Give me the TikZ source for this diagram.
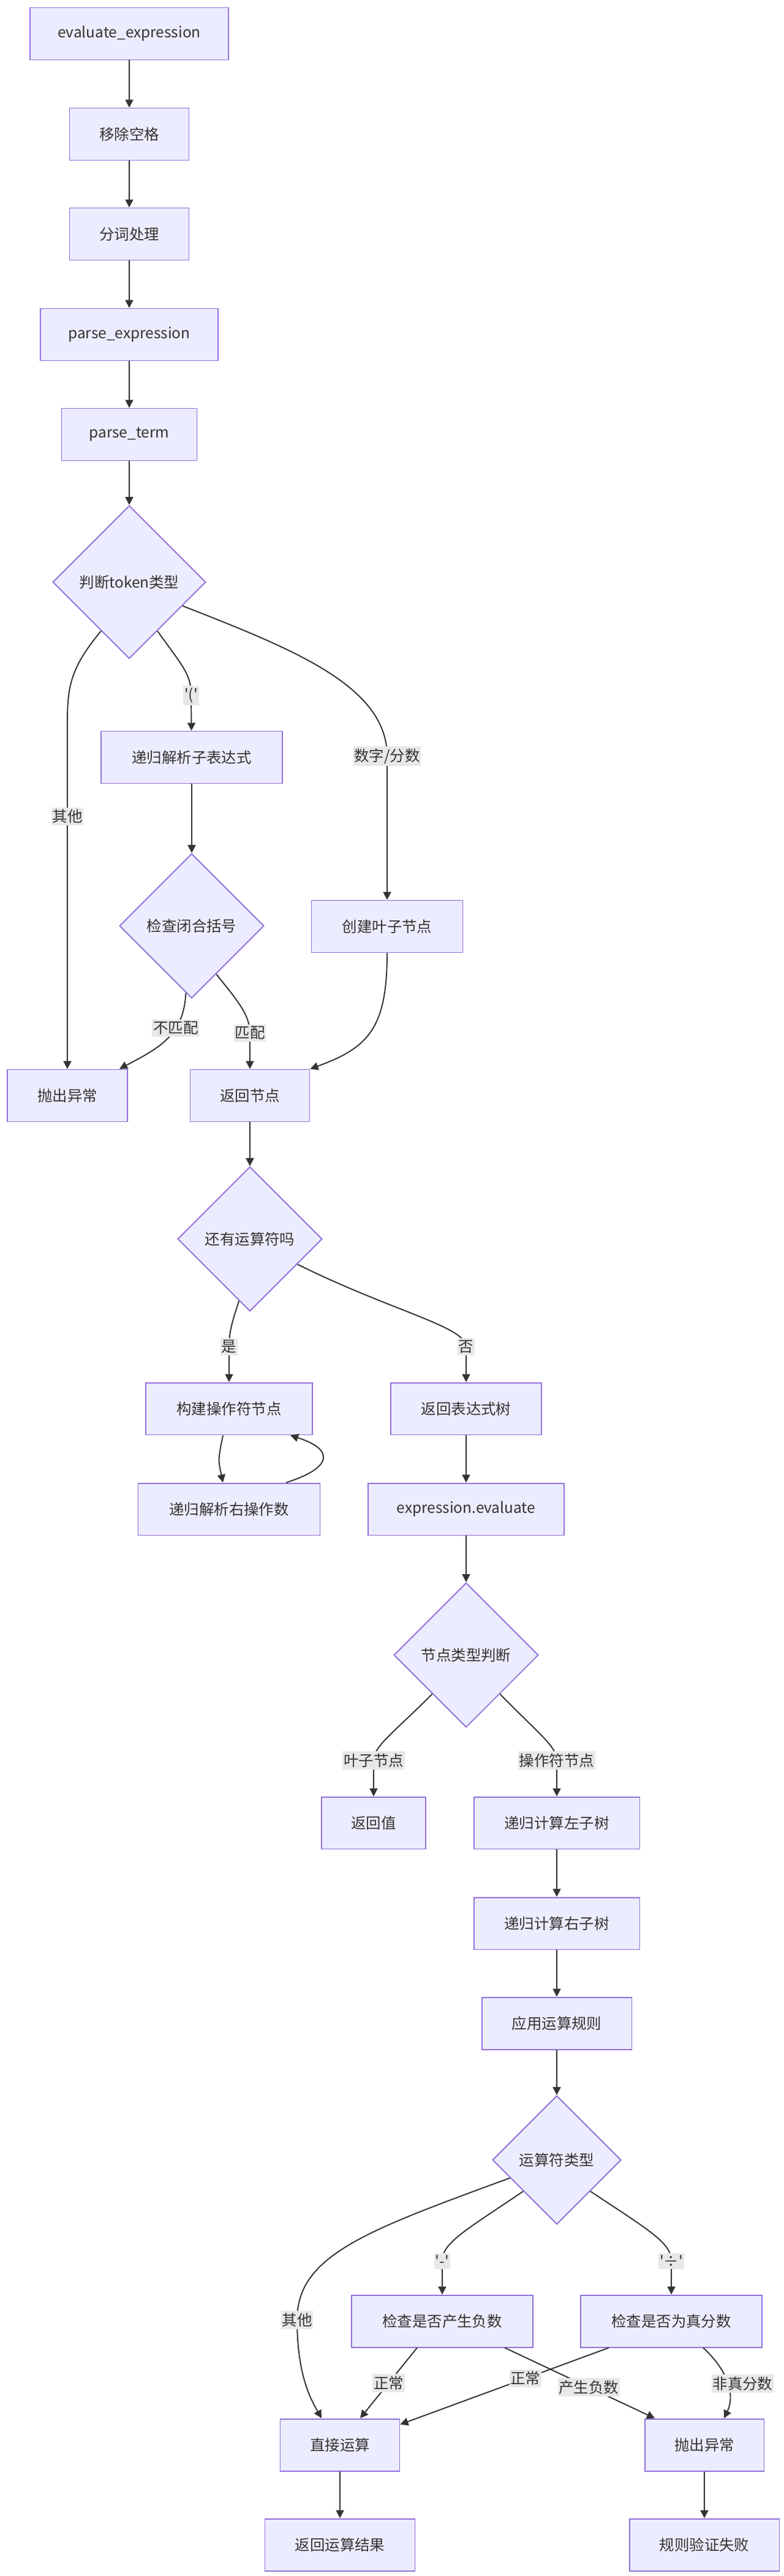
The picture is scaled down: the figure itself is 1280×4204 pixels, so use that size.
\documentclass[tikz,border=0pt]{standalone}
\usepackage{fontspec}
\newfontfamily\cjk{Noto Sans CJK SC}
\usetikzlibrary{arrows.meta,shapes.geometric}
\definecolor{nodefill}{HTML}{ECECFF}
\definecolor{nodeline}{HTML}{9370DB}
\definecolor{edgeline}{HTML}{333333}
\definecolor{lblfill}{HTML}{E8E8E8}
\def\chartfont{\cjk\fontsize{13.9}{16}\selectfont}
\tikzset{
	box/.style={draw=nodeline, fill=nodefill, line width=1.1pt, minimum height=1.7cm, inner sep=0pt, text=edgeline, font=\chartfont},
	dia/.style={box, diamond, aspect=1},
	flow/.style={draw=edgeline, line width=1.1pt, -{Triangle[length=0.26cm, width=0.26cm]}},
	lbl/.style={fill=lblfill, inner xsep=1pt, inner ysep=2pt, text=edgeline, font=\chartfont}
}

\begin{document}
\begin{tikzpicture}[x=0.02cm, y=-0.02cm]
			%%%%% START %%%%%
			\useasboundingbox (0, 0) rectangle (1280, 4204);
			
			\node[box, minimum width=6.48cm] (eval) at (211, 55) {evaluate\_expression};
			\node[box, minimum width=3.9cm] (rmsp) at (211, 219) {移除空格};
			\node[box, minimum width=3.9cm] (tokz) at (211, 382) {分词处理};
			\node[box, minimum width=5.8cm] (pexp) at (211, 546) {parse\_expression};
			\node[box, minimum width=4.42cm] (pterm) at (211, 709) {parse\_term};
			\node[dia, minimum size=5cm] (judge) at (211, 950) {判断token类型};
			
			\node[box, minimum width=5.92cm] (sub) at (313, 1236) {递归解析子表达式};
			\node[dia, minimum size=4.72cm] (close) at (313, 1511) {检查闭合括号};
			\node[box, minimum width=4.94cm] (leaf) at (632, 1512) {创建叶子节点};
			\node[box, minimum width=3.92cm] (throw1) at (110, 1788) {抛出异常};
			\node[box, minimum width=3.9cm] (ret) at (408, 1788) {返回节点};
			
			\node[dia, minimum size=4.72cm] (more) at (408, 2022) {还有运算符吗};
			\node[box, minimum width=5.44cm] (build) at (374, 2299) {构建操作符节点};
			\node[box, minimum width=4.92cm] (rtree) at (761, 2299) {返回表达式树};
			\node[box, minimum width=5.94cm] (rop) at (374, 2463) {递归解析右操作数};
			\node[box, minimum width=6.4cm] (eeval) at (761, 2463) {expression.evaluate};
			
			\node[dia, minimum size=4.72cm] (kind) at (761, 2701) {节点类型判断};
			\node[box, minimum width=3.4cm] (rval) at (610, 2975) {返回值};
			\node[box, minimum width=5.42cm] (lsub) at (909, 2975) {递归计算左子树};
			\node[box, minimum width=5.42cm] (rsub) at (909, 3139) {递归计算右子树};
			\node[box, minimum width=4.9cm] (apply) at (909, 3302) {应用运算规则};
			
			\node[dia, minimum size=4.2cm] (optype) at (909, 3525) {运算符类型};
			\node[box, minimum width=5.92cm] (negchk) at (722, 3788) {检查是否产生负数};
			\node[box, minimum width=5.92cm] (fracchk) at (1096, 3788) {检查是否为真分数};
			\node[box, minimum width=3.9cm] (direct) at (555, 3990) {直接运算};
			\node[box, minimum width=3.9cm] (throw2) at (1150, 3990) {抛出异常};
			\node[box, minimum width=4.9cm] (retres) at (555, 4153) {返回运算结果};
			\node[box, minimum width=4.9cm] (fail) at (1150, 4153) {规则验证失败};
			
			\draw[flow] (eval) -- (rmsp);
			\draw[flow] (rmsp) -- (tokz);
			\draw[flow] (tokz) -- (pexp);
			\draw[flow] (pexp) -- (pterm);
			\draw[flow] (pterm) -- (judge);
			
			\draw[flow] (judge.240) .. controls (115, 1090) and (110, 1120) .. (110, 1180) -- (throw1) node[lbl, pos=0.27] {其他};
			\draw[flow] (judge.300) .. controls (300, 1090) and (312, 1100) .. (312, 1135) node[lbl] {'('} -- (sub);
			\draw[flow] (judge.336) .. controls (480, 1060) and (632, 1120) .. (632, 1234) node[lbl] {数字/分数} -- (leaf);
			\draw[flow] (sub) -- (close);
			\draw[flow] (close.265) .. controls (300, 1690) and (260, 1710) .. ([xshift=-0.28cm]throw1.north east) node[lbl, pos=0.35] {不匹配};
			\draw[flow] (close.297) .. controls (385, 1630) and (408, 1655) .. (408, 1686) node[lbl] {匹配} -- (ret);
			\draw[flow] (leaf) .. controls (632, 1680) and (600, 1710) .. (ret.north east);
			
			\draw[flow] (ret) -- (more);
			\draw[flow] (more.260) .. controls (378, 2160) and (374, 2175) .. (374, 2198) node[lbl] {是} -- (build);
			\draw[flow] (more.332) .. controls (640, 2140) and (761, 2165) .. (761, 2198) node[lbl] {否} -- (rtree);
			\draw[flow] ([xshift=-0.2cm]build.south) .. controls (356, 2382) .. ([xshift=-0.2cm]rop.north);
			\draw[flow] ([xshift=1.86cm]rop.north) .. controls (545, 2395) and (545, 2365) .. ([xshift=2cm]build.south);
			\draw[flow] (rtree) -- (eeval);
			\draw[flow] (eeval) -- (kind);
			
			\draw[flow] (kind.229) .. controls (640, 2830) and (610, 2850) .. (610, 2873) node[lbl] {叶子节点} -- (rval);
			\draw[flow] (kind.311) .. controls (880, 2830) and (909, 2850) .. (909, 2873) node[lbl] {操作符节点} -- (lsub);
			\draw[flow] (lsub) -- (rsub);
			\draw[flow] (rsub) -- (apply);
			\draw[flow] (apply) -- (optype);
			
			\draw[flow] (optype.201) .. controls (600, 3640) and (485, 3680) .. (485, 3786) node[lbl] {其他} .. controls (485, 3880) and (510, 3920) .. ([xshift=-0.6cm]direct.north);
			\draw[flow] (optype.223) .. controls (760, 3640) and (722, 3660) .. (722, 3690) node[lbl] {'-'} -- (negchk);
			\draw[flow] (optype.317) .. controls (1060, 3640) and (1096, 3660) .. (1096, 3690) node[lbl] {'÷'} -- (fracchk);
			\draw[flow] ([xshift=-0.82cm]negchk.south) -- ([xshift=0.66cm]direct.north) node[lbl, pos=0.5] {正常};
			\draw[flow] ([xshift=2.04cm]negchk.south) -- ([xshift=-1.62cm]throw2.north) node[lbl, pos=0.56] {产生负数};
			\draw[flow] ([xshift=-2.04cm]fracchk.south) -- ([yshift=-0.2cm]direct.north east) node[lbl, pos=0.4] {正常};
			\draw[flow] ([xshift=1.04cm]fracchk.south) .. controls (1190, 3870) and (1200, 3910) .. ([xshift=0.64cm]throw2.north) node[lbl, pos=0.5, xshift=0.5cm] {非真分数};
			\draw[flow] (direct) -- (retres);
			\draw[flow] (throw2) -- (fail);
			
			%%%%% END %%%%%
\end{tikzpicture}
\end{document}
